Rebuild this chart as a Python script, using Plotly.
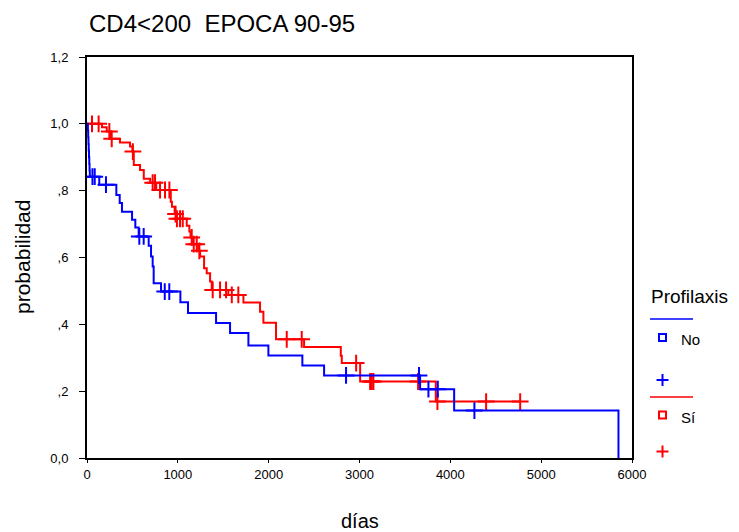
import numpy as np
import plotly.graph_objects as go

# ---------------- data ----------------
blue_name = "No"
blue_event_t = [10, 13, 16, 19, 22, 25, 28, 31, 135, 323, 360, 385, 496, 532, 569,
                679, 705, 723, 734, 815, 1028, 1112, 1421, 1575, 1777, 1997, 2371,
                2610, 3667, 4042, 5851]
blue_event_s = [0.98, 0.96, 0.94, 0.92, 0.90, 0.88, 0.86, 0.842, 0.818, 0.787, 0.763,
                0.737, 0.713, 0.690, 0.663, 0.635, 0.603, 0.573, 0.523, 0.498, 0.466,
                0.434, 0.404, 0.374, 0.337, 0.307, 0.277, 0.247, 0.206, 0.142, 0.0]
blue_cens_t = [60, 85, 209, 576, 624, 856, 906, 2852, 3655, 3759, 3862, 4265]

red_name = "Sí"
red_event_t = [165, 217, 264, 363, 474, 500, 515, 584, 625, 695, 762, 922, 935, 965,
               980, 1098, 1127, 1140, 1165, 1225, 1245, 1289, 1318, 1355, 1373, 1556,
               1722, 1905, 1942, 2081, 2390, 2794, 2805, 3007, 3840]
red_event_s = [0.99, 0.977, 0.955, 0.944, 0.932, 0.917, 0.877, 0.862, 0.836, 0.824,
               0.802, 0.767, 0.752, 0.730, 0.716, 0.695, 0.678, 0.660, 0.640, 0.620,
               0.603, 0.568, 0.553, 0.528, 0.503, 0.488, 0.465, 0.438, 0.405, 0.355,
               0.332, 0.306, 0.284, 0.229, 0.169]
red_cens_t = [55, 128, 246, 272, 505, 723, 749, 804, 859, 907, 975, 990, 1024, 1054,
              1153, 1175, 1208, 1237, 1384, 1465, 1531, 1594, 1666, 2199, 2364, 2963,
              3117, 3135, 3153, 3645, 3858, 4394, 4769]

y_tickvals = [0.0, 0.2, 0.4, 0.6, 0.8, 1.0, 1.2]
y_ticktext = ["0,0", ",2", ",4", ",6", ",8", "1,0", "1,2"]
x_tickvals = [0, 1000, 2000, 3000, 4000, 5000, 6000]

title_text = "CD4<200  EPOCA 90-95"
x_title = "días"
y_title = "probabilidad"
legend_title = "Profilaxis"

BLUE = "#0000ff"
RED = "#ff0000"
FONT = "Liberation Sans, Arial, sans-serif"

# ---------------- geometry (page pixels) ----------------
PAGE_W, PAGE_H = 739, 532
OFF = 8  # default body margin of the html page
W, H = PAGE_W - OFF, PAGE_H - OFF
L, R, T, B = 87, 632, 57, 458


def px(xp):
    return (xp - L) / (R - L)


def py(yp):
    return (B - yp) / (B - T)


def step_value(ev_t, ev_s, t):
    idx = np.searchsorted(np.array(ev_t), t, side="right")
    vals = np.array([1.0] + list(ev_s))
    return vals[idx]


fig = go.Figure()

series = [
    (red_name, red_event_t, red_event_s, red_cens_t, RED),
    (blue_name, blue_event_t, blue_event_s, blue_cens_t, BLUE),
]
for name, et, es, ct, col in series:
    xs = [0] + list(et)
    ys = [1.0] + list(es)
    if max(ct) > max(et):
        xs.append(max(ct))
        ys.append(ys[-1])
    fig.add_trace(go.Scatter(x=xs, y=ys, mode="lines", line=dict(color=col, width=2, shape="hv"),
                             showlegend=False, hoverinfo="skip"))
    cy = step_value(et, es, np.array(ct))
    fig.add_trace(go.Scatter(x=ct, y=cy, mode="markers",
                             marker=dict(symbol="cross-thin", size=12, line=dict(color=col, width=2)),
                             showlegend=False, hoverinfo="skip"))

# ---------------- custom legend ----------------
shapes = []
ann = []


def hline(x0, x1, y, col, w=2):
    shapes.append(dict(type="line", xref="paper", yref="paper", x0=px(x0), x1=px(x1),
                       y0=py(y), y1=py(y), line=dict(color=col, width=w)))


def vline(x, y0, y1, col, w=2):
    shapes.append(dict(type="line", xref="paper", yref="paper", x0=px(x), x1=px(x),
                       y0=py(y0), y1=py(y1), line=dict(color=col, width=w)))


def plus(cx, cy, col):
    hline(cx - 6, cx + 6, cy, col)
    vline(cx, cy - 6, cy + 6, col)


def square(cx, cy, col):
    shapes.append(dict(type="rect", xref="paper", yref="paper", x0=px(cx - 3.5), x1=px(cx + 3.5),
                       y0=py(cy + 3.5), y1=py(cy - 3.5), line=dict(color=col, width=2)))


ann.append(dict(text=legend_title, xref="paper", yref="paper", x=px(649), y=py(296),
                xanchor="left", yanchor="middle", showarrow=False,
                font=dict(family=FONT, size=19, color="black")))
hline(650, 693, 319, BLUE, 1.5)
square(662.5, 337.5, BLUE)
ann.append(dict(text=blue_name, xref="paper", yref="paper", x=px(679), y=py(339),
                xanchor="left", yanchor="middle", showarrow=False,
                font=dict(family=FONT, size=15, color="black")))
plus(662.5, 380, BLUE)
hline(650, 693, 397, RED, 1.5)
square(662.5, 415, RED)
ann.append(dict(text=red_name, xref="paper", yref="paper", x=px(679), y=py(417),
                xanchor="left", yanchor="middle", showarrow=False,
                font=dict(family=FONT, size=15, color="black")))
plus(662.5, 451.5, RED)

# titles
ann.append(dict(text=title_text, xref="paper", yref="paper", x=px(87), y=py(24),
                xanchor="left", yanchor="middle", showarrow=False,
                font=dict(family=FONT, size=24, color="black")))
ann.append(dict(text=x_title, xref="paper", yref="paper", x=px(359.5), y=py(521),
                xanchor="center", yanchor="middle", showarrow=False,
                font=dict(family=FONT, size=20, color="black")))
ann.append(dict(text=y_title, xref="paper", yref="paper", x=px(22), y=py(257),
                xanchor="center", yanchor="middle", showarrow=False, textangle=-90,
                font=dict(family=FONT, size=21, color="black")))

fig.update_layout(
    width=W, height=H,
    margin=dict(l=L - OFF, r=W - (R - OFF), t=T - OFF, b=H - (B - OFF), pad=0),
    paper_bgcolor="white", plot_bgcolor="white",
    shapes=shapes, annotations=ann,
    showlegend=False,
    font=dict(family=FONT, size=13, color="black"),
)
fig.update_xaxes(range=[0, 6000], tickvals=x_tickvals, ticktext=[str(v) for v in x_tickvals],
                 showgrid=False, zeroline=False, showline=True, linecolor="black", linewidth=2,
                 mirror=True, ticks="outside", ticklen=3, tickcolor="black", tickwidth=1,
                 tickfont=dict(family=FONT, size=13, color="black"))
fig.update_yaxes(range=[0, 1.2], tickvals=y_tickvals, ticktext=y_ticktext,
                 showgrid=False, zeroline=False, showline=True, linecolor="black", linewidth=2,
                 mirror=True, ticks="outside", ticklen=6, tickcolor="black", tickwidth=1,
                 ticklabelstandoff=8,
                 tickfont=dict(family=FONT, size=13, color="black"))

fig.write_html("out.html")
